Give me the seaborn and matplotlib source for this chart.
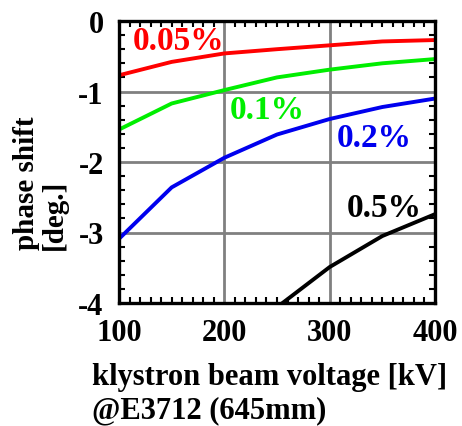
import numpy as np
import pandas as pd
import matplotlib
matplotlib.use("Agg")
import matplotlib.pyplot as plt
import seaborn as sns

# values
voltage = [100, 150, 200, 250, 300, 350, 400]
shift_005 = [-0.77, -0.58, -0.46, -0.40, -0.345, -0.29, -0.27]
shift_01 = [-1.54, -1.17, -0.98, -0.80, -0.69, -0.60, -0.54]
shift_02 = [-3.09, -2.36, -1.94, -1.61, -1.39, -1.22, -1.10]
shift_05 = [np.nan, np.nan, np.nan, -4.06, -3.49, -3.05, -2.74]
series = ["0.05%", "0.1%", "0.2%", "0.5%"]
colors = ["#ff0000", "#00ee00", "#0000ee", "#000000"]
xticks = [100, 200, 300, 400]
yticks = [0, -1, -2, -3, -4]

df = pd.DataFrame({
    "voltage": voltage * 4,
    "shift": shift_005 + shift_01 + shift_02 + shift_05,
    "ratio": sum([[s] * len(voltage) for s in series], []),
})

sns.set_style("white")
plt.rcParams["font.family"] = ["Liberation Serif", "DejaVu Serif"]
plt.rcParams["font.weight"] = "bold"
plt.rcParams["text.color"] = "black"
plt.rcParams["xtick.color"] = "black"
plt.rcParams["ytick.color"] = "black"

fig = plt.figure(figsize=(4.62, 4.27), dpi=100)
ax = fig.add_axes([119 / 462, 1 - 304 / 427, 316 / 462, 282 / 427])

sns.lineplot(data=df, x="voltage", y="shift", hue="ratio", palette=colors,
             hue_order=series, linewidth=2.8, legend=False, ax=ax)

ax.set_xlim(100, 400)
ax.set_ylim(-4, 0)
ax.set_xticks(xticks)
ax.set_xticklabels([str(v) for v in xticks], fontweight="bold")
ax.set_xticks(np.arange(100, 401, 10), minor=True)
ax.set_yticks(yticks)
ax.set_yticklabels([str(v) for v in yticks], fontweight="bold")
ax.set_yticks(np.arange(-4, 0.01, 0.2), minor=True)
ax.grid(True, which="major", color="#808080", linewidth=2)
ax.set_axisbelow(True)
for sp in ax.spines.values():
    sp.set_color("black")
    sp.set_linewidth(2.4)
ax.tick_params(which="both", direction="in", top=True, right=True,
               bottom=True, left=True, color="black", labelcolor="black",
               width=1.5)
ax.tick_params(which="major", length=0, labelsize=22, pad=11)
ax.tick_params(which="minor", length=4)
ax.set_xlabel("")
ax.set_ylabel("")

# curve labels
lab_kw = dict(fontsize=24, fontweight="bold", va="center", ha="left")
ax.text(113, -0.28, "0.05%", color=colors[0], **lab_kw)
ax.text(205, -1.26, "0.1%", color=colors[1], **lab_kw)
ax.text(307, -1.65, "0.2%", color=colors[2], **lab_kw)
ax.text(316, -2.65, "0.5%", color=colors[3], **lab_kw)

fig.text(92 / 462, 1 - 385 / 427, "klystron beam voltage [kV]",
         fontsize=22, fontweight="bold", ha="left", va="baseline")
fig.text(92 / 462, 1 - 418 / 427, "@E3712 (645mm)",
         fontsize=22, fontweight="bold", ha="left", va="baseline")
fig.text(27 / 462, 1 - 250 / 427, "phase shift", rotation=90,
         fontsize=21, fontweight="bold", ha="center", va="bottom")
fig.text(54 / 462, 1 - 250 / 427, "[deg.]", rotation=90,
         fontsize=21, fontweight="bold", ha="center", va="bottom")

fig.savefig("out.png", dpi=100)
